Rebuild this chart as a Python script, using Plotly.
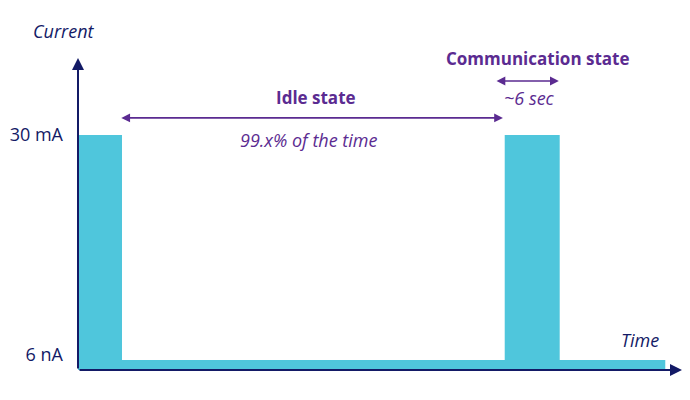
import plotly.graph_objects as go

# time boundaries of each current segment (arbitrary time units)
segment_edges = [0, 10, 97, 109.5, 133.5]
# current level of each segment (schematic units: 1 = 30 mA)
segment_levels = [1.0, 0.043, 1.0, 0.043]
tick_values = [0.065, 1.0]
tick_labels = ["6 nA", "30 mA"]

NAVY = "#131a66"
PURPLE = "#5b2b91"
CYAN = "#4fc6dc"
FONT = "Open Sans"

# step outline of the current profile, filled down to zero
fig = go.Figure(
    go.Scatter(
        x=segment_edges,
        y=segment_levels + segment_levels[-1:],
        mode="lines",
        line=dict(shape="hv", width=0, color=CYAN),
        fill="tozeroy",
        fillcolor=CYAN,
        hoverinfo="skip",
    )
)

x_max = 137.3
y_max = 1.328

annotations = [
    # axes with arrow heads
    dict(x=x_max, y=0, ax=0, ay=0, axref="x", ayref="y", xref="x", yref="y",
         showarrow=True, arrowhead=2, arrowsize=1.2, arrowwidth=2, arrowcolor=NAVY, text=""),
    dict(x=0, y=y_max, ax=0, ay=0, axref="x", ayref="y", xref="x", yref="y",
         showarrow=True, arrowhead=2, arrowsize=1.2, arrowwidth=2, arrowcolor=NAVY, text=""),
    # idle span
    dict(x=96.6, y=1.073, ax=9.5, ay=1.073, axref="x", ayref="y", xref="x", yref="y",
         showarrow=True, arrowhead=2, startarrowhead=2, arrowside="end+start",
         arrowsize=1.1, arrowwidth=1.6, arrowcolor=PURPLE, text=""),
    # communication span
    dict(x=109.3, y=1.23, ax=94.8, ay=1.23, axref="x", ayref="y", xref="x", yref="y",
         showarrow=True, arrowhead=2, startarrowhead=2, arrowside="end+start",
         arrowsize=1.1, arrowwidth=1.6, arrowcolor=PURPLE, text=""),
    # texts
    dict(x=54.1, y=1.162, text="<b>Idle state</b>", showarrow=False,
         font=dict(family=FONT, size=17, color=PURPLE)),
    dict(x=52.5, y=0.98, text="<i>99.x% of the time</i>", showarrow=False,
         font=dict(family=FONT, size=18, color=PURPLE)),
    dict(x=104.5, y=1.327, text="<b>Communication state</b>", showarrow=False,
         font=dict(family=FONT, size=17, color=PURPLE)),
    dict(x=102.7, y=1.157, text="<i>~6 sec</i>", showarrow=False,
         font=dict(family=FONT, size=18, color=PURPLE)),
    dict(x=127.7, y=0.128, text="<i>Time</i>", showarrow=False,
         font=dict(family=FONT, size=18, color=NAVY)),
    dict(x=-14 / 604, y=339 / 312, xref="paper", yref="paper", text="<i>Current</i>",
         xanchor="center", yanchor="middle",
         showarrow=False, font=dict(family=FONT, size=18, color=NAVY)),
]

fig.update_layout(
    width=690,
    height=400,
    margin=dict(l=70, r=16, t=50, b=38),
    plot_bgcolor="white",
    paper_bgcolor="white",
    showlegend=False,
    annotations=annotations,
    xaxis=dict(range=[0, x_max], showgrid=False, zeroline=False, showticklabels=False,
               showline=False, fixedrange=True, automargin=False),
    yaxis=dict(range=[0, y_max], showgrid=False, zeroline=False, showline=False,
               tickvals=tick_values, ticktext=tick_labels, ticks="",
               ticklabelstandoff=14, automargin=False,
               tickfont=dict(family=FONT, size=18, color=NAVY), fixedrange=True),
)

fig.write_html("out.html", config={"displayModeBar": False})
